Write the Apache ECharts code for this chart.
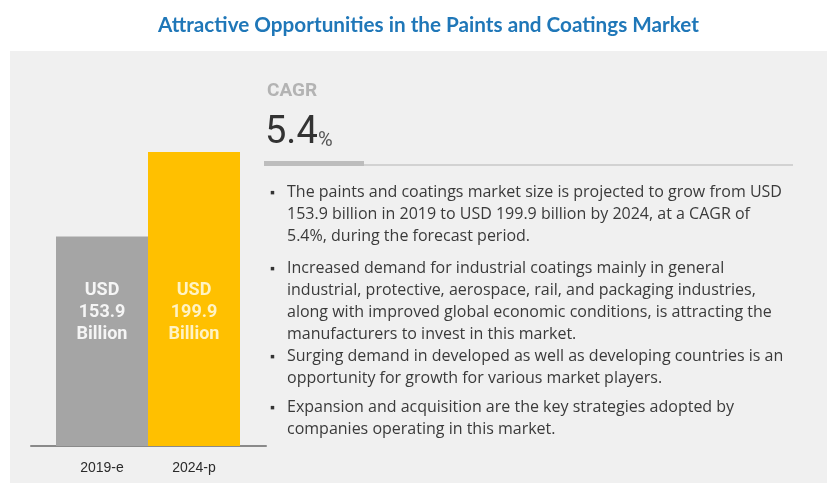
<!DOCTYPE html>
<html>
<head>
<meta charset="utf-8">
<title>Paints and Coatings Market</title>
<script src="https://cdn.jsdelivr.net/npm/echarts@6/dist/echarts.min.js"></script>
<style>
  html, body { margin: 0; padding: 0; background: #ffffff; }
  #chart { width: 827px; height: 485px; }
</style>
</head>
<body>
<div id="chart"></div>
<script>
// Market size, USD billion
const categories = ['2019-e', '2024-p'];
const marketSize = [153.9, 199.9];
const barColors = ['#a5a5a5', '#ffc000'];
const barLabelColors = ['#f5f5f5', '#fff3c4'];

const titleText = 'Attractive Opportunities in the Paints and Coatings Market';
const cagrValue = '5.4';

const bulletPoints = [
  'The paints and coatings market size is projected to grow from USD\n153.9 billion in 2019 to USD 199.9 billion by 2024, at a CAGR of\n5.4%, during the forecast period.',
  'Increased demand for industrial coatings mainly in general\nindustrial, protective, aerospace, rail, and packaging industries,\nalong with improved global economic conditions, is attracting the\nmanufacturers to invest in this market.',
  'Surging demand in developed as well as developing countries is an\nopportunity for growth for various market players.',
  'Expansion and acquisition are the key strategies adopted by\ncompanies operating in this market.'
];
const bulletTops = [181, 257, 345, 396];

const labelFont = 'Roboto, "Liberation Sans", sans-serif';
const bodyFont = '"Open Sans", "Liberation Sans", sans-serif';

const chart = echarts.init(document.getElementById('chart'), null, { renderer: 'canvas' });

const graphics = [
  // light panel behind the content
  { type: 'rect', z: -10, shape: { x: 10, y: 51, width: 817, height: 432 }, style: { fill: '#f0f0f0' } },
  // CAGR block
  { type: 'text', left: 267, top: 82, style: { text: 'CAGR', font: 'bold 19px ' + labelFont, fill: '#b3b3b3' } },
  { type: 'text', left: 265, top: 114, style: { text: cagrValue, font: '38px ' + labelFont, fill: '#333333' } },
  { type: 'text', left: 318, top: 131, style: { text: '%', font: '20px ' + labelFont, fill: '#555555' } },
  { type: 'rect', shape: { x: 264, y: 161, width: 100, height: 5 }, style: { fill: '#bdbdbd' } },
  { type: 'line', shape: { x1: 364, y1: 165, x2: 793, y2: 165 }, style: { stroke: '#c9c9c9', lineWidth: 1.5 } }
];

bulletPoints.forEach(function (txt, i) {
  graphics.push({
    type: 'text', left: 270, top: bulletTops[i] + 1,
    style: { text: '▪', font: '14px "Liberation Sans", sans-serif', fill: '#333333', lineHeight: 22 }
  });
  graphics.push({
    type: 'text', left: 287, top: bulletTops[i],
    style: { text: txt, font: '16px ' + bodyFont, fill: '#3a3a3a', lineHeight: 22 }
  });
});

const option = {
  backgroundColor: '#ffffff',
  animation: false,
  title: {
    text: titleText,
    left: 153,
    top: 10,
    textStyle: { color: '#1f77b8', fontSize: 20.7, fontWeight: 'bold', fontFamily: 'Lato, "Liberation Sans", sans-serif' }
  },
  grid: [
    { left: 56, width: 184, top: 115, bottom: 39 },
    { left: 31, width: 235, top: 115, bottom: 39 }
  ],
  xAxis: [
    {
      type: 'category', gridIndex: 0, data: categories,
      axisLine: { show: false }, axisTick: { show: false },
      axisLabel: { margin: 15, color: '#2b2b2b', fontSize: 14, fontFamily: '"Liberation Sans", sans-serif' }
    },
    {
      type: 'value', gridIndex: 1, min: 0, max: 1,
      axisLine: { show: true, lineStyle: { color: '#8a8a8a', width: 2 } },
      axisTick: { show: false }, axisLabel: { show: false }, splitLine: { show: false }
    }
  ],
  yAxis: [
    { type: 'value', gridIndex: 0, min: 40, max: 220, show: false, splitLine: { show: false } },
    { type: 'value', gridIndex: 1, min: 0, max: 1, show: false, splitLine: { show: false } }
  ],
  series: [{
    type: 'bar',
    xAxisIndex: 0, yAxisIndex: 0,
    barWidth: '100%',
    data: marketSize.map(function (v, i) {
      return { value: v, itemStyle: { color: barColors[i] }, label: { color: barLabelColors[i] } };
    }),
    label: {
      show: true,
      position: 'insideBottom',
      distance: 101,
      formatter: function (p) { return 'USD\n' + p.value + '\nBillion'; },
      fontFamily: labelFont,
      fontWeight: 'bold',
      fontSize: 18,
      lineHeight: 22,
      align: 'center'
    }
  }],
  graphic: graphics
};

chart.setOption(option);
</script>
</body>
</html>
